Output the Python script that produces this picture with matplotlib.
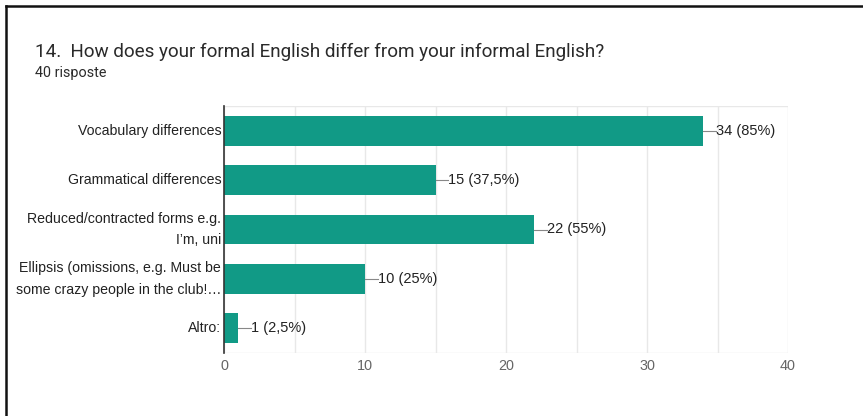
import matplotlib
matplotlib.use("Agg")
import matplotlib.pyplot as plt
from matplotlib.lines import Line2D

categories = [
    "Vocabulary differences",
    "Grammatical differences",
    "Reduced/contracted forms e.g.\nI\u2019m, uni",
    "Ellipsis (omissions, e.g. Must be\nsome crazy people in the club!\u2026",
    "Altro:",
]
counts = [34, 15, 22, 10, 1]
value_labels = ["34 (85%)", "15 (37,5%)", "22 (55%)", "10 (25%)", "1 (2,5%)"]
xticks = [0, 10, 20, 30, 40]

W, H = 863, 416
fig = plt.figure(figsize=(W / 100, H / 100), dpi=100)
fig.patch.set_facecolor("white")

ax = fig.add_axes([224 / W, 1 - 353 / H, (788 - 224) / W, (353 - 106) / H])

bar_color = "#119a86"
ypos = list(range(len(categories)))
ax.barh(ypos, counts, height=0.6, color=bar_color, zorder=3)
ax.set_ylim(len(categories) - 0.5, -0.5)
ax.set_xlim(0, 40)

# light grid at every 5 units
for v in range(0, 45, 5):
    ax.axvline(v, color="#e8e8e8", lw=1, zorder=1)
ax.axhline(-0.5, color="#e8e8e8", lw=1, zorder=1)
ax.axhline(len(categories) - 0.5, color="#e8e8e8", lw=1, zorder=1)

for s in ["top", "right", "bottom"]:
    ax.spines[s].set_visible(False)
ax.spines["left"].set_color("#333333")
ax.spines["left"].set_linewidth(1.2)
ax.spines["left"].set_zorder(4)

ax.set_yticks(ypos)
ax.set_yticklabels(categories, fontsize=10.2, color="#222222",
                   family=["Liberation Sans", "DejaVu Sans"], linespacing=1.7)
for lbl in ax.get_yticklabels():
    lbl.set_verticalalignment("center")
ax.tick_params(axis="y", length=0, pad=2)
ax.set_xticks(xticks)
ax.set_xticklabels([str(t) for t in xticks], fontsize=10.4, color="#666666",
                   family="Liberation Sans")
ax.tick_params(axis="x", length=0, pad=4)

# leader lines and value labels
for y, c, lab in zip(ypos, counts, value_labels):
    ax.plot([c, c + 0.9], [y, y], color="#888888", lw=0.8, zorder=3,
            clip_on=False)
    ax.text(c + 0.9, y, lab, va="center", ha="left", fontsize=10.5,
            color="#222222", family="Liberation Sans")

fig.text(35 / W, 1 - 52 / H, "14.  How does your formal English differ from your informal English?",
         fontsize=13.6, color="#2a2a2a", family="Roboto", va="center", ha="left")
fig.text(35 / W, 1 - 73 / H, "40 risposte", fontsize=10.4, color="#2a2a2a",
         family="Roboto", va="center", ha="left")

# frame lines along the top and left edges
fig.add_artist(Line2D([6 / W, 1], [1 - 6 / H, 1 - 6 / H], transform=fig.transFigure,
                      color="#111111", lw=1.8))
fig.add_artist(Line2D([6 / W, 6 / W], [0, 1 - 6 / H], transform=fig.transFigure,
                      color="#111111", lw=1.8))

fig.savefig("out.png", dpi=100, facecolor="white")
